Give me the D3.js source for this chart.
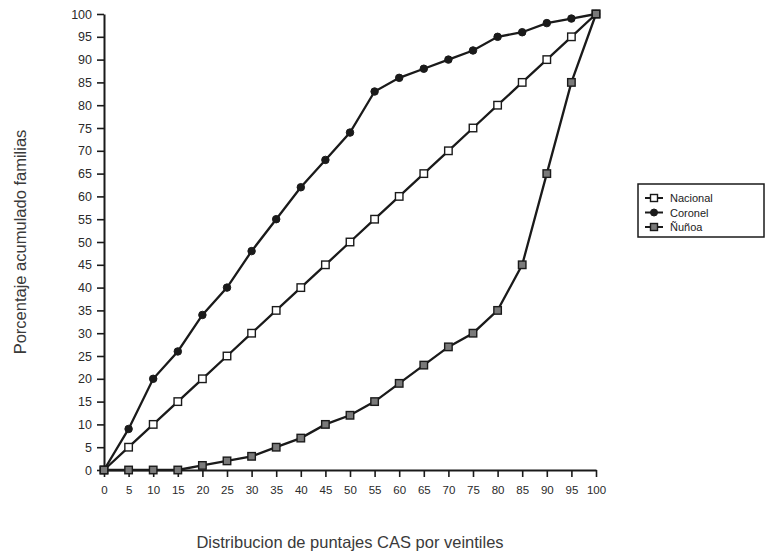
<!DOCTYPE html>
<html>
<head>
<meta charset="utf-8">
<script src="https://cdn.jsdelivr.net/npm/d3@7"></script>
<style>
  html, body { margin: 0; padding: 0; background: #fff; }
  svg { display: block; font-family: "Liberation Sans", Arial, Helvetica, sans-serif; }
</style>
</head>
<body>
<svg id="chart" width="766" height="556"></svg>
<script>
const xValues = [0, 5, 10, 15, 20, 25, 30, 35, 40, 45, 50, 55, 60, 65, 70, 75, 80, 85, 90, 95, 100];
const nacional = [0, 5, 10, 15, 20, 25, 30, 35, 40, 45, 50, 55, 60, 65, 70, 75, 80, 85, 90, 95, 100];
const coronel  = [0, 9, 20, 26, 34, 40, 48, 55, 62, 68, 74, 83, 86, 88, 90, 92, 95, 96, 98, 99, 100];
const nunoa    = [0, 0, 0, 0, 1, 2, 3, 5, 7, 10, 12, 15, 19, 23, 27, 30, 35, 45, 65, 85, 100];
const seriesNames = ["Nacional", "Coronel", "Ñuñoa"];
const xTicks = [0, 5, 10, 15, 20, 25, 30, 35, 40, 45, 50, 55, 60, 65, 70, 75, 80, 85, 90, 95, 100];
const yTicks = [0, 5, 10, 15, 20, 25, 30, 35, 40, 45, 50, 55, 60, 65, 70, 75, 80, 85, 90, 95, 100];
const xTitle = "Distribucion de puntajes CAS por veintiles";
const yTitle = "Porcentaje acumulado familias";

const svg = d3.select("#chart");
const ink = "#1a1a1a";
const x = d3.scaleLinear().domain([0, 100]).range([104, 596]);
const y = d3.scaleLinear().domain([0, 100]).range([470, 14]);

// axes
const yAxis = svg.append("g").attr("transform", `translate(${x(0)},0)`)
  .call(d3.axisLeft(y).tickValues(yTicks).tickSize(7).tickPadding(5).tickSizeOuter(0));
const xAxis = svg.append("g").attr("transform", `translate(0,${y(0)})`)
  .call(d3.axisBottom(x).tickValues(xTicks).tickSize(7).tickPadding(9).tickSizeOuter(0));
[xAxis, yAxis].forEach(a => {
  a.select(".domain").attr("stroke", ink).attr("stroke-width", 2);
  a.selectAll(".tick line").attr("stroke", ink).attr("stroke-width", 1.6);
  a.selectAll(".tick text").attr("fill", "#2a2a2a").style("font-size", "12.5px")
    .style("font-family", '"Liberation Sans", Arial, sans-serif');
});
xAxis.selectAll(".tick text").style("font-size", "11.5px");

// titles
svg.append("text").attr("x", 350).attr("y", 548).attr("text-anchor", "middle")
  .attr("fill", "#3a3a3a").style("font-size", "16.5px").text(xTitle);
svg.append("text").attr("transform", `translate(26,${y(50)}) rotate(-90)`)
  .attr("text-anchor", "middle").attr("fill", "#3a3a3a").style("font-size", "16.5px").text(yTitle);

const data = [nacional, coronel, nunoa];
const line = d3.line().x((d, i) => x(xValues[i])).y(d => y(d));

function drawMarker(g, kind, cx, cy, s) {
  if (kind === 1) {
    g.append("circle").attr("cx", cx).attr("cy", cy).attr("r", s / 2)
      .attr("fill", ink).attr("stroke", ink).attr("stroke-width", 1);
  } else {
    g.append("rect").attr("x", cx - s / 2).attr("y", cy - s / 2).attr("width", s).attr("height", s)
      .attr("fill", kind === 0 ? "#fff" : "#7a7a7a").attr("stroke", ink).attr("stroke-width", 1.4);
  }
}

data.forEach((vals) => {
  svg.append("path").datum(vals).attr("d", line)
    .attr("fill", "none").attr("stroke", ink).attr("stroke-width", 2.3);
});
data.forEach((vals, k) => {
  const g = svg.append("g");
  vals.forEach((v, i) => drawMarker(g, k, x(xValues[i]), y(v), 7.5));
});

// legend
const lg = svg.append("g");
lg.append("rect").attr("x", 638).attr("y", 184).attr("width", 126).attr("height", 53)
  .attr("fill", "#fff").attr("stroke", ink).attr("stroke-width", 1.5);
seriesNames.forEach((name, k) => {
  const ly = 198 + k * 14.5;
  lg.append("line").attr("x1", 645).attr("x2", 663).attr("y1", ly).attr("y2", ly)
    .attr("stroke", ink).attr("stroke-width", 2);
  drawMarker(lg.append("g"), k, 654, ly, 7);
  lg.append("text").attr("x", 670).attr("y", ly + 4).attr("fill", "#222")
    .style("font-size", "11px").text(name);
});
</script>
</body>
</html>
